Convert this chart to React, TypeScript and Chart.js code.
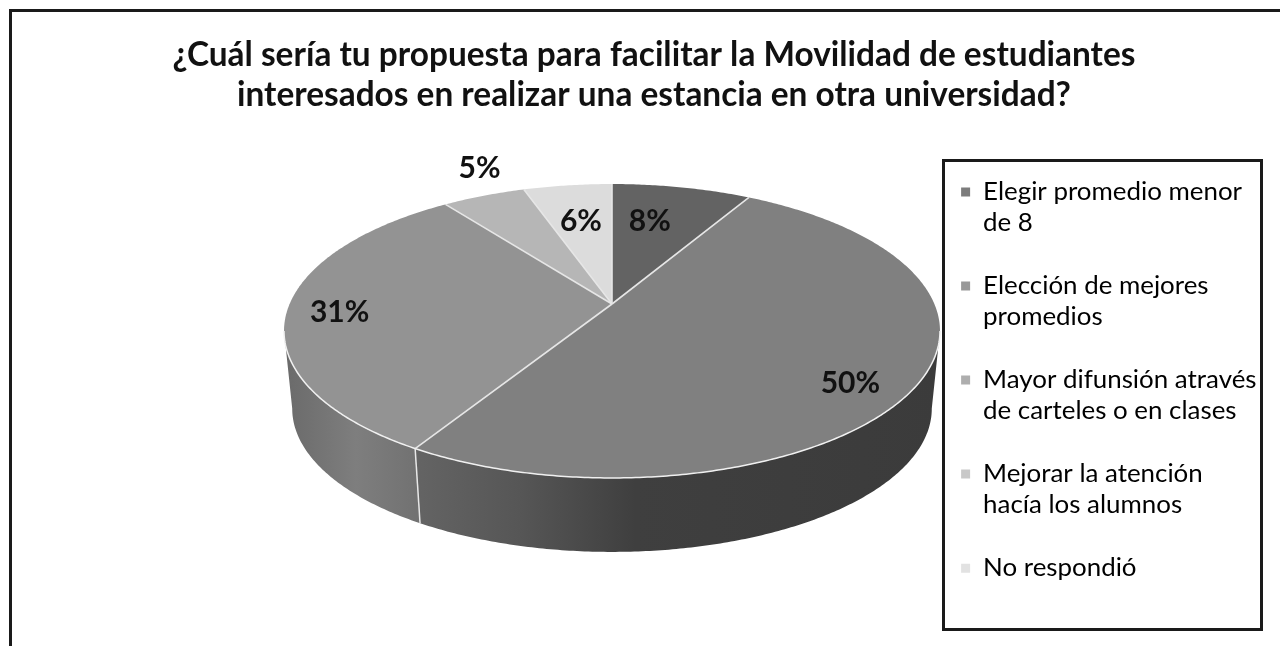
import React, { useEffect, useRef } from "react";
import { Chart, registerables } from "chart.js";

Chart.register(...registerables);

const FONT = "Lato, 'Noto Sans', sans-serif";

const titleLines = [
  "¿Cuál sería tu propuesta para facilitar la Movilidad de estudiantes",
  "interesados en realizar una estancia en otra universidad?",
];
const categories = [
  ["Elegir promedio menor", "de 8"],
  ["Elección de mejores", "promedios"],
  ["Mayor difunsión através", "de carteles o en clases"],
  ["Mejorar la atención", "hacía los alumnos"],
  ["No respondió"],
];
const shares = [8.2, 50.4, 31.3, 4.9, 5.2];
const shareLabels = ["8%", "50%", "31%", "5%", "6%"];

const topColors = ["#636363", "#808080", "#939393", "#b6b6b6", "#dcdcdc"];
const legendColors = ["#7c7c7c", "#989898", "#aeaeae", "#c8c8c8", "#e2e2e2"];
const sideStops: [number, string][][] = [
  [[0, "#3c3c3c"], [1, "#3c3c3c"]],
  [[0, "#646464"], [0.2, "#565656"], [0.42, "#3f3f3f"], [1, "#3b3b3b"]],
  [[0, "#6a6a6a"], [0.55, "#7e7e7e"], [1, "#727272"]],
  [[0, "#8a8a8a"], [1, "#8a8a8a"]],
  [[0, "#a5a5a5"], [1, "#a5a5a5"]],
];
const labelRadius = [0.668, 0.84, 0.838, 1.264, 0.664];
const labelShiftDeg = [-3.4, 6.8, -1.1, 4.3, 0];

// Perspective view of the unit disc
const CX = 612, CY = 304, A = 322.4, B = 142, K = 0.1837;
const DEPTH_SCALE = 0.975, DEPTH_Y = 382.3;

const project = (u: number, v: number) => {
  const w = 1 - K * v;
  return { x: CX + (A * u) / w, y: CY + (B * v) / w };
};
const top = (a: number) => project(Math.cos(a), Math.sin(a));
const bottom = (a: number) => {
  const p = top(a);
  return { x: CX + DEPTH_SCALE * (p.x - CX), y: DEPTH_Y + DEPTH_SCALE * (p.y - CY) };
};
const VIS0 = Math.asin(K), VIS1 = Math.PI - Math.asin(K);

const samples = (a0: number, a1: number) => {
  const n = Math.max(2, Math.ceil(Math.abs(a1 - a0) / 0.01));
  const out: number[] = [];
  for (let i = 0; i <= n; i++) out.push(a0 + ((a1 - a0) * i) / n);
  return out;
};

const piePlugin = {
  id: "perspectivePie",
  afterLayout(chart: any) {
    // the legend measures multi-line items by character count: widen its clip area
    chart.legend.right += 24;
    chart.legend.width += 24;
  },
  beforeDatasetDraw(chart: any) {
    const ctx: CanvasRenderingContext2D = chart.ctx;
    const arcs = chart.getDatasetMeta(0).data;
    ctx.save();
    // rim
    arcs.forEach((arc: any, i: number) => {
      const a0 = Math.max(arc.startAngle, VIS0);
      const a1 = Math.min(arc.endAngle, VIS1);
      if (a1 <= a0) return;
      const angs = samples(a0, a1);
      const xs = angs.map((a) => top(a).x);
      const g = ctx.createLinearGradient(Math.min(...xs), 0, Math.max(...xs), 0);
      sideStops[i].forEach(([o, c]) => g.addColorStop(o, c));
      ctx.beginPath();
      angs.forEach((a, j) => {
        const p = top(a);
        j ? ctx.lineTo(p.x, p.y) : ctx.moveTo(p.x, p.y);
      });
      [...angs].reverse().forEach((a) => {
        const p = bottom(a);
        ctx.lineTo(p.x, p.y);
      });
      ctx.closePath();
      ctx.fillStyle = g;
      ctx.fill();
    });
    // seams between rim segments
    arcs.forEach((arc: any) => {
      if (arc.startAngle > VIS0 && arc.startAngle < VIS1) {
        const p = top(arc.startAngle), q = bottom(arc.startAngle);
        ctx.beginPath();
        ctx.moveTo(p.x, p.y);
        ctx.lineTo(q.x, q.y);
        ctx.strokeStyle = "#e8e8e8";
        ctx.lineWidth = 1.5;
        ctx.stroke();
      }
    });
    // top face
    arcs.forEach((arc: any, i: number) => {
      ctx.beginPath();
      ctx.moveTo(CX, CY);
      samples(arc.startAngle, arc.endAngle).forEach((a) => {
        const p = top(a);
        ctx.lineTo(p.x, p.y);
      });
      ctx.closePath();
      ctx.fillStyle = topColors[i];
      ctx.fill();
    });
    // separators and front edge highlight
    arcs.forEach((arc: any) => {
      const p = top(arc.startAngle);
      ctx.beginPath();
      ctx.moveTo(CX, CY);
      ctx.lineTo(p.x, p.y);
      ctx.strokeStyle = "#e6e6e6";
      ctx.lineWidth = 1.6;
      ctx.stroke();
    });
    ctx.beginPath();
    samples(VIS0, VIS1).forEach((a, j) => {
      const p = top(a);
      j ? ctx.lineTo(p.x, p.y) : ctx.moveTo(p.x, p.y);
    });
    ctx.strokeStyle = "#f0f0f0";
    ctx.lineWidth = 1.5;
    ctx.stroke();
    // value labels
    ctx.fillStyle = "#111111";
    ctx.font = `bold 30px ${FONT}`;
    ctx.textAlign = "center";
    ctx.textBaseline = "middle";
    arcs.forEach((arc: any, i: number) => {
      const mid = (arc.startAngle + arc.endAngle) / 2 + (labelShiftDeg[i] * Math.PI) / 180;
      const p = project(labelRadius[i] * Math.cos(mid), labelRadius[i] * Math.sin(mid));
      ctx.fillText(shareLabels[i], p.x, p.y);
    });
    ctx.restore();
    return false;
  },
  afterDraw(chart: any) {
    const ctx: CanvasRenderingContext2D = chart.ctx;
    ctx.save();
    ctx.strokeStyle = "#1a1a1a";
    ctx.lineWidth = 3;
    ctx.beginPath();
    ctx.moveTo(10.5, 646);
    ctx.lineTo(10.5, 10.5);
    ctx.lineTo(1280, 10.5);
    ctx.stroke();
    ctx.strokeRect(943.5, 160.5, 318, 469);
    ctx.restore();
  },
};

export default function App() {
  const ref = useRef<HTMLCanvasElement>(null);
  useEffect(() => {
    const chart = new Chart(ref.current!, {
      type: "pie",
      data: {
        labels: categories.map((c) => c.join(" ")),
        datasets: [{ data: shares, backgroundColor: topColors, borderWidth: 0 }],
      },
      plugins: [piePlugin],
      options: {
        responsive: false,
        animation: false,
        layout: { padding: { left: 56, right: 28, top: 0, bottom: 0 } },
        plugins: {
          tooltip: { enabled: false },
          title: {
            display: true,
            text: titleLines,
            color: "#111111",
            font: { family: FONT, size: 33.4, weight: "bold", lineHeight: 1.2 },
            padding: { top: 35, bottom: 32 },
          },
          legend: {
            position: "right",
            align: "start",
            fullSize: false,
            labels: {
              boxWidth: 9,
              boxHeight: 9,
              padding: 32,
              color: "#1c1c1c",
              font: { family: FONT, size: 25.9, lineHeight: 1.197 },
              generateLabels: () =>
                categories.map((c, i) => ({
                  text: c,
                  fillStyle: legendColors[i],
                  strokeStyle: "transparent",
                  lineWidth: 0,
                  hidden: false,
                  index: i,
                })) as any,
            },
          },
        },
      },
    } as any);
    return () => chart.destroy();
  }, []);
  return (
    <div style={{ position: "absolute", left: 0, top: 0, width: 1280, height: 646, background: "#fff" }}>
      <canvas ref={ref} width={1280} height={646} style={{ display: "block", filter: "blur(0.5px)" }} />
    </div>
  );
}
